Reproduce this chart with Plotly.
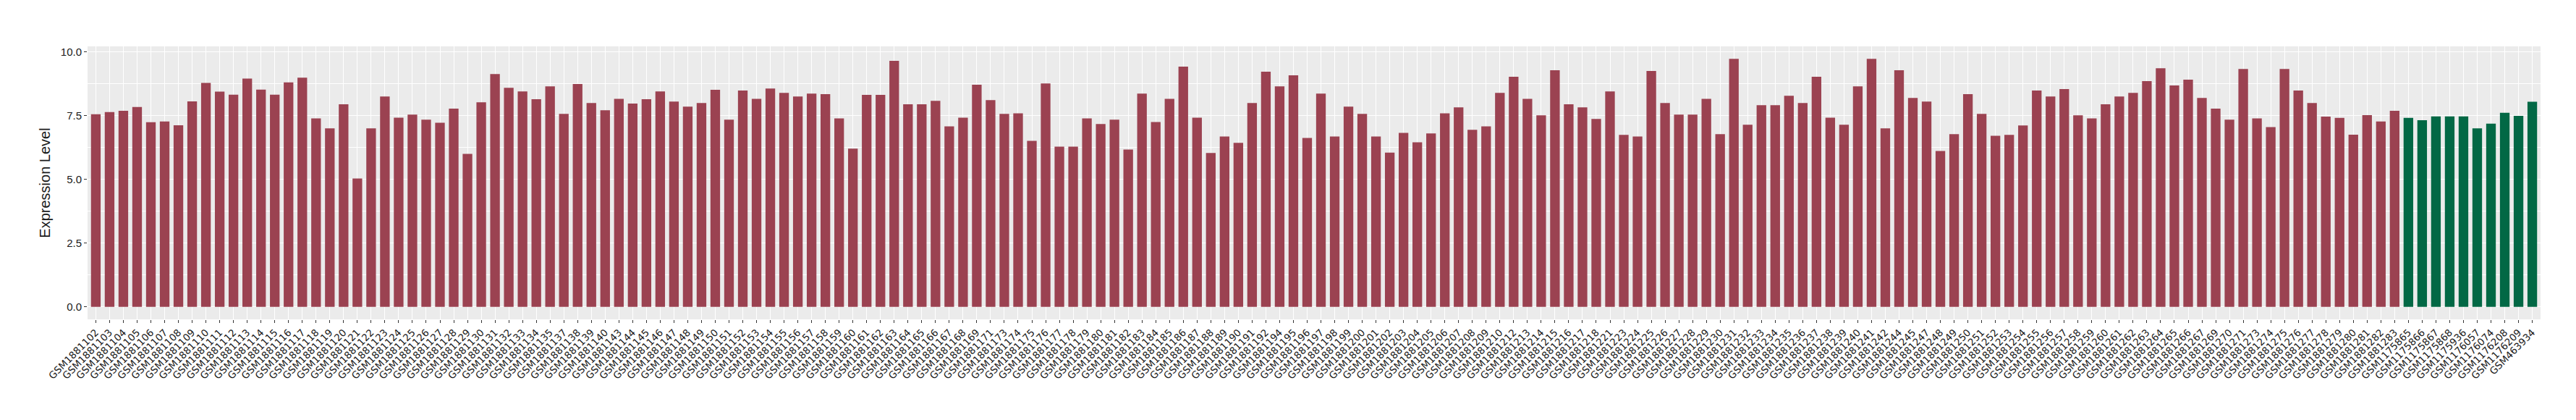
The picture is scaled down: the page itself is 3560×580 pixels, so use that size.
import plotly.graph_objects as go

# GSM1881xxx samples (group 1, dark red)
red_samples = [
    "GSM1881102", "GSM1881103", "GSM1881104", "GSM1881105", "GSM1881106", "GSM1881107",
    "GSM1881108", "GSM1881109", "GSM1881110", "GSM1881111", "GSM1881112", "GSM1881113",
    "GSM1881114", "GSM1881115", "GSM1881116", "GSM1881117", "GSM1881118", "GSM1881119",
    "GSM1881120", "GSM1881121", "GSM1881122", "GSM1881123", "GSM1881124", "GSM1881125",
    "GSM1881126", "GSM1881127", "GSM1881128", "GSM1881129", "GSM1881130", "GSM1881131",
    "GSM1881132", "GSM1881133", "GSM1881134", "GSM1881135", "GSM1881137", "GSM1881138",
    "GSM1881139", "GSM1881140", "GSM1881143", "GSM1881144", "GSM1881145", "GSM1881146",
    "GSM1881147", "GSM1881148", "GSM1881149", "GSM1881150", "GSM1881151", "GSM1881152",
    "GSM1881153", "GSM1881154", "GSM1881155", "GSM1881156", "GSM1881157", "GSM1881158",
    "GSM1881159", "GSM1881160", "GSM1881161", "GSM1881162", "GSM1881163", "GSM1881164",
    "GSM1881165", "GSM1881166", "GSM1881167", "GSM1881168", "GSM1881169", "GSM1881171",
    "GSM1881173", "GSM1881174", "GSM1881175", "GSM1881176", "GSM1881177", "GSM1881178",
    "GSM1881179", "GSM1881180", "GSM1881181", "GSM1881182", "GSM1881183", "GSM1881184",
    "GSM1881185", "GSM1881186", "GSM1881187", "GSM1881188", "GSM1881189", "GSM1881190",
    "GSM1881191", "GSM1881192", "GSM1881194", "GSM1881195", "GSM1881196", "GSM1881197",
    "GSM1881198", "GSM1881199", "GSM1881200", "GSM1881201", "GSM1881202", "GSM1881203",
    "GSM1881204", "GSM1881205", "GSM1881206", "GSM1881207", "GSM1881208", "GSM1881209",
    "GSM1881210", "GSM1881212", "GSM1881213", "GSM1881214", "GSM1881215", "GSM1881216",
    "GSM1881217", "GSM1881218", "GSM1881221", "GSM1881223", "GSM1881224", "GSM1881225",
    "GSM1881226", "GSM1881227", "GSM1881228", "GSM1881229", "GSM1881230", "GSM1881231",
    "GSM1881232", "GSM1881233", "GSM1881234", "GSM1881235", "GSM1881236", "GSM1881237",
    "GSM1881238", "GSM1881239", "GSM1881240", "GSM1881241", "GSM1881242", "GSM1881244",
    "GSM1881245", "GSM1881247", "GSM1881248", "GSM1881249", "GSM1881250", "GSM1881251",
    "GSM1881252", "GSM1881253", "GSM1881254", "GSM1881255", "GSM1881256", "GSM1881257",
    "GSM1881258", "GSM1881259", "GSM1881260", "GSM1881261", "GSM1881262", "GSM1881263",
    "GSM1881264", "GSM1881265", "GSM1881266", "GSM1881267", "GSM1881269", "GSM1881270",
    "GSM1881271", "GSM1881273", "GSM1881274", "GSM1881275", "GSM1881276", "GSM1881277",
    "GSM1881278", "GSM1881279", "GSM1881280", "GSM1881281", "GSM1881282", "GSM1881283",
]
red_values = [
    7.56, 7.65, 7.70, 7.85, 7.25, 7.28, 7.13, 8.07, 8.79, 8.45, 8.33, 8.96,
    8.53, 8.33, 8.81, 9.00, 7.40, 7.01, 7.95, 5.04, 7.01, 8.26, 7.43, 7.55,
    7.35, 7.23, 7.78, 6.01, 8.03, 9.14, 8.60, 8.46, 8.15, 8.66, 7.58, 8.75,
    8.00, 7.72, 8.17, 7.98, 8.15, 8.46, 8.06, 7.86, 8.00, 8.52, 7.35, 8.49,
    8.17, 8.57, 8.40, 8.26, 8.37, 8.35, 7.40, 6.21, 8.32, 8.32, 9.66, 7.95,
    7.95, 8.09, 7.09, 7.43, 8.72, 8.12, 7.58, 7.60, 6.52, 8.77, 6.29, 6.29,
    7.40, 7.18, 7.35, 6.18, 8.37, 7.26, 8.17, 9.43, 7.43, 6.04, 6.69, 6.44,
    8.00, 9.23, 8.66, 9.09, 6.63, 8.37, 6.69, 7.86, 7.58, 6.69, 6.06, 6.83,
    6.46, 6.81, 7.60, 7.83, 6.95, 7.09, 8.40, 9.03, 8.17, 7.52, 9.29, 7.95,
    7.83, 7.38, 8.46, 6.75, 6.69, 9.26, 8.00, 7.55, 7.55, 8.17, 6.78, 9.74,
    7.15, 7.92, 7.92, 8.29, 8.00, 9.03, 7.43, 7.15, 8.66, 9.74, 7.01, 9.29,
    8.20, 8.06, 6.12, 6.78, 8.35, 7.58, 6.72, 6.75, 7.12, 8.49, 8.26, 8.55,
    7.52, 7.40, 7.95, 8.26, 8.40, 8.86, 9.37, 8.69, 8.92, 8.20, 7.78, 7.35,
    9.34, 7.40, 7.06, 9.34, 8.49, 8.00, 7.47, 7.42, 6.76, 7.53, 7.28, 7.70,
]

# group 2, dark green
green_samples = [
    "GSM1175865", "GSM1175866", "GSM1175867", "GSM1175868", "GSM1175936",
    "GSM1176057", "GSM1176074", "GSM1176208", "GSM1176209", "GSM463934",
]
green_values = [7.42, 7.33, 7.48, 7.48, 7.48, 7.01, 7.19, 7.62, 7.50, 8.05]

all_samples = red_samples + green_samples
ymax = max(red_values + green_values)

fig = go.Figure()
fig.add_trace(go.Bar(x=red_samples, y=red_values, marker_color="#9B4251",
                     marker_line_width=0, width=0.7, showlegend=False))
fig.add_trace(go.Bar(x=green_samples, y=green_values, marker_color="#026845",
                     marker_line_width=0, width=0.7, showlegend=False))

fig.update_layout(
    width=3560, height=580,
    margin=dict(l=113, r=57, t=56, b=147),
    paper_bgcolor="white", plot_bgcolor="#EBEBEB",
    barmode="overlay",
    font=dict(family="Liberation Sans, Arial, sans-serif", size=14, color="#1a1a1a"),
)
fig.update_xaxes(
    type="category", categoryorder="array", categoryarray=all_samples,
    range=[-0.6, len(all_samples) - 0.4],
    tickangle=-45, tickfont=dict(family="DejaVu Sans", size=13.5, color="#1a1a1a"),
    showgrid=True, gridcolor="white", gridwidth=1.1,
    ticks="outside", ticklen=4, tickcolor="#333333", tickwidth=1,
    showline=False, zeroline=False,
)
fig.update_yaxes(
    range=[-0.05 * ymax, 1.05 * ymax],
    tickvals=[0, 2.5, 5, 7.5, 10], tickformat=".1f",
    tickfont=dict(size=15, color="#1a1a1a"),
    showgrid=True, gridcolor="white", gridwidth=1.1,
    minor=dict(tickvals=[1.25, 3.75, 6.25, 8.75], showgrid=True, gridcolor="white", gridwidth=0.6, ticks=""),
    ticks="outside", ticklen=4, tickcolor="#333333", tickwidth=1,
    zeroline=False, showline=False,
    title=dict(text="Expression Level", font=dict(size=20, color="#1a1a1a"), standoff=8),
)

fig.write_html("out.html")
